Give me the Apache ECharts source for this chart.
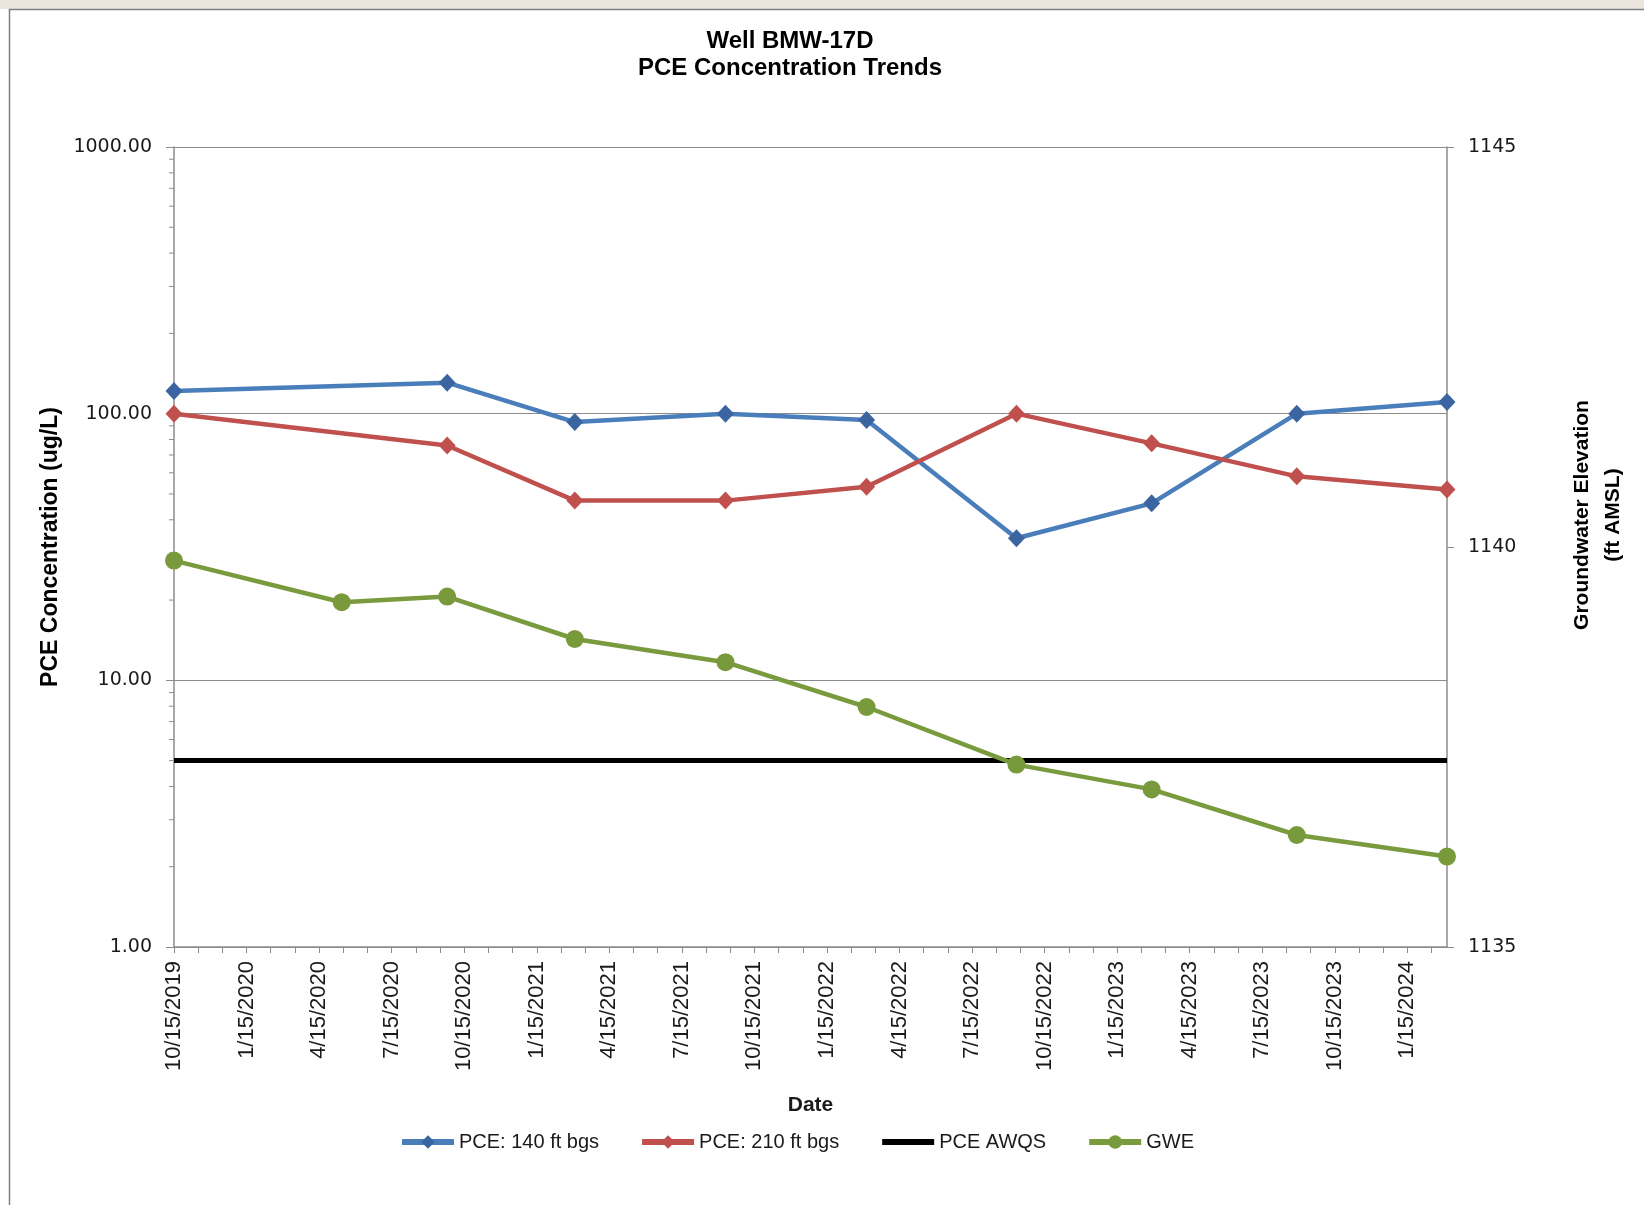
<!DOCTYPE html>
<html>
<head>
<meta charset="utf-8">
<script src="https://cdn.jsdelivr.net/npm/echarts@6/dist/echarts.min.js"></script>
<style>
  html, body { margin: 0; padding: 0; background: #fff; }
  #chart { width: 1644px; height: 1205px; }
</style>
</head>
<body>
<div id="chart"></div>
<script>
  // sample dates and values
  var sampleDates = ['2019-10-15', '2020-09-24', '2021-03-02', '2021-09-09', '2022-03-04',
    '2022-09-10', '2023-02-28', '2023-08-28', '2024-03-04'];
  var pce140 = [121.6, 130.7, 93.0, 100, 94.6, 34.1, 46.1, 100, 110.6];
  var pce210 = [100, 76.0, 47.2, 47.2, 53.2, 100, 77.4, 58.2, 52.0];

  var gweDates = ['2019-10-15', '2020-05-13', '2020-09-24', '2021-03-02', '2021-09-09',
    '2022-03-04', '2022-09-10', '2023-02-28', '2023-08-28', '2024-03-04'];
  var gwe = [1139.83, 1139.31, 1139.38, 1138.85, 1138.56, 1138.00, 1137.28, 1136.97, 1136.40, 1136.13];

  var awqsDates = ['2019-10-15', '2024-03-04'];
  var awqs = [5, 5];

  var xTickLabels = ['10/15/2019', '1/15/2020', '4/15/2020', '7/15/2020', '10/15/2020',
    '1/15/2021', '4/15/2021', '7/15/2021', '10/15/2021', '1/15/2022', '4/15/2022',
    '7/15/2022', '10/15/2022', '1/15/2023', '4/15/2023', '7/15/2023', '10/15/2023', '1/15/2024'];
  var logMinorTicks = [2, 3, 4, 5, 6, 7, 8, 9, 20, 30, 40, 50, 60, 70, 80, 90,
    200, 300, 400, 500, 600, 700, 800, 900];

  // months counted from 10/15/2019 (ticks fall on the 15th like the excel axis)
  function monthIndex(s) {
    var p = s.split('-').map(Number);
    return (p[0] - 2019) * 12 + (p[1] - 10) + (p[2] - 15) / 30.44;
  }
  function pairs(dates, vals) {
    return dates.map(function (d, i) { return [monthIndex(d), vals[i]]; });
  }
  var xMax = monthIndex(sampleDates[sampleDates.length - 1]);

  var axisGray = '#8c8c8c';
  var labelFont = 'DejaVu Sans';

  var chart = echarts.init(document.getElementById('chart'));
  chart.setOption({
    animation: false,
    backgroundColor: '#fff',
    graphic: [
      { type: 'rect', shape: { x: 0, y: 0, width: 1644, height: 9 }, style: { fill: '#ebe5dd' }, silent: true },
      { type: 'rect', shape: { x: 9.5, y: 9.5, width: 1700, height: 1300 },
        style: { fill: 'none', stroke: '#7f7f7f', lineWidth: 1.5 }, silent: true }
    ],
    title: {
      text: 'Well BMW-17D\nPCE Concentration Trends',
      left: 790,
      top: 28,
      padding: 0,
      textAlign: 'center',
      textStyle: { fontFamily: 'Liberation Sans', fontSize: 24, fontWeight: 'bold', color: '#000', lineHeight: 27 }
    },
    legend: {
      left: 394,
      top: 1127,
      itemWidth: 52,
      itemHeight: 17,
      itemGap: 40,
      lineStyle: { width: 6 },
      textStyle: { fontFamily: 'Liberation Sans', fontSize: 20, color: '#1a1a1a' },
      data: [
        'PCE: 140 ft bgs',
        'PCE: 210 ft bgs',
        { name: 'PCE AWQS', itemStyle: { opacity: 0 } },
        'GWE'
      ]
    },
    grid: { left: 174, right: 197, top: 147, bottom: 258, containLabel: false, outerBoundsMode: 'none' },
    xAxis: {
      type: 'value',
      min: 0,
      max: xMax,
      interval: 1,
      name: 'Date',
      nameLocation: 'middle',
      nameGap: 148,
      nameTextStyle: { fontFamily: 'Liberation Sans', fontSize: 21, fontWeight: 'bold', color: '#1a1a1a' },
      axisLine: { show: true, lineStyle: { color: axisGray, width: 1.5 } },
      axisTick: { show: true, length: 6, lineStyle: { color: axisGray } },
      splitLine: { show: false },
      axisLabel: {
        rotate: 90,
        margin: 14,
        showMaxLabel: false,
        fontFamily: 'Liberation Sans',
        fontSize: 22,
        color: '#1a1a1a',
        formatter: function (v) {
          var r = Math.round(v);
          if (Math.abs(v - r) > 1e-6 || r % 3 !== 0) return '';
          return xTickLabels[r / 3] || '';
        }
      }
    },
    yAxis: [{
      type: 'log',
      logBase: 10,
      min: 1,
      max: 1000,
      position: 'left',
      name: 'PCE Concentration (ug/L)',
      nameLocation: 'middle',
      nameRotate: 90,
      nameGap: 108,
      nameTextStyle: { fontFamily: 'Liberation Sans', fontSize: 23, fontWeight: 'bold', color: '#000' },
      axisLine: { show: true, lineStyle: { color: axisGray, width: 1.5 } },
      axisTick: { show: true, length: 8, lineStyle: { color: axisGray } },
      splitLine: { show: true, lineStyle: { color: axisGray, width: 1.2 } },
      axisLabel: {
        margin: 22,
        fontFamily: labelFont,
        fontSize: 19,
        color: '#1a1a1a',
        formatter: function (v) { return Number(v).toFixed(2); }
      }
    }, {
      type: 'value',
      min: 1135,
      max: 1145,
      interval: 5,
      position: 'right',
      name: 'Groundwater Elevation\n(ft AMSL)',
      nameLocation: 'middle',
      nameRotate: 90,
      nameGap: 120,
      nameTextStyle: {
        fontFamily: 'Liberation Sans', fontSize: 21, fontWeight: 'bold', color: '#000',
        lineHeight: 31, padding: [0, 0, 0, 64]
      },
      axisLine: { show: true, lineStyle: { color: axisGray, width: 1.5 } },
      axisTick: { show: true, length: 7, lineStyle: { color: axisGray } },
      splitLine: { show: false },
      axisLabel: {
        margin: 21, fontFamily: labelFont, fontSize: 19, color: '#1a1a1a',
        formatter: function (v) { return String(v); }
      }
    }],
    series: [
      {
        // minor ticks of the log axis (2..9 in each decade)
        type: 'custom',
        silent: true,
        clip: false,
        yAxisIndex: 0,
        z: 1,
        data: logMinorTicks.map(function (v) { return [0, v]; }),
        renderItem: function (params, api) {
          var p = api.coord([0, api.value(1)]);
          return {
            type: 'line',
            shape: { x1: p[0] - 5, y1: p[1], x2: p[0], y2: p[1] },
            style: { stroke: axisGray, lineWidth: 1 }
          };
        }
      },
      {
        name: 'PCE: 140 ft bgs',
        type: 'line',
        yAxisIndex: 0,
        data: pairs(sampleDates, pce140),
        symbol: 'diamond',
        symbolSize: [17, 18],
        lineStyle: { color: '#4a7ebb', width: 4.5 },
        itemStyle: { color: '#3b65a0' }
      },
      {
        name: 'PCE: 210 ft bgs',
        type: 'line',
        yAxisIndex: 0,
        data: pairs(sampleDates, pce210),
        symbol: 'diamond',
        symbolSize: [17, 18],
        lineStyle: { color: '#c0504d', width: 4.5 },
        itemStyle: { color: '#c0504d' }
      },
      {
        name: 'PCE AWQS',
        type: 'line',
        yAxisIndex: 0,
        data: pairs(awqsDates, awqs),
        symbol: 'none',
        clip: false,
        lineStyle: { color: '#000', width: 5 },
        itemStyle: { color: '#000' }
      },
      {
        name: 'GWE',
        type: 'line',
        yAxisIndex: 1,
        data: pairs(gweDates, gwe),
        symbol: 'circle',
        symbolSize: 18,
        lineStyle: { color: '#7a9a3e', width: 4.5 },
        itemStyle: { color: '#789a3c' }
      }
    ]
  });
</script>
</body>
</html>
